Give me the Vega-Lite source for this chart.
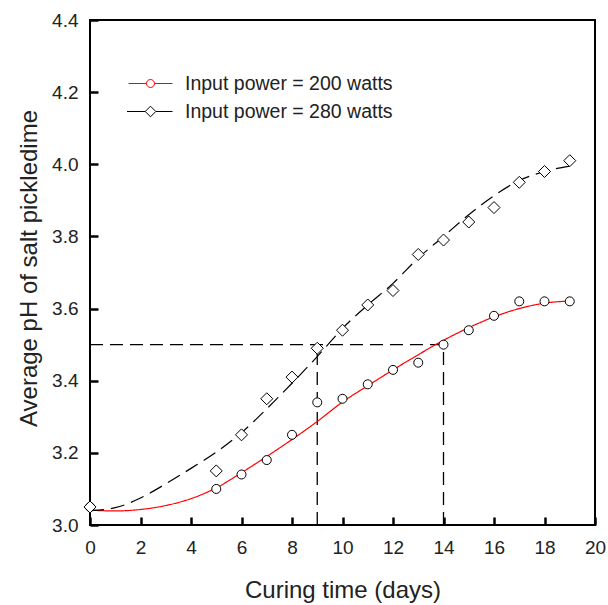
{
  "$schema": "https://vega.github.io/schema/vega-lite/v6.json",
  "width": 505,
  "height": 505,
  "autosize": {"type": "none"},
  "padding": {"left": 90, "top": 20, "right": 13, "bottom": 80},
  "background": "white",
  "config": {
    "font": "Liberation Sans",
    "view": {"stroke": "black", "strokeWidth": 2},
    "axis": {
      "domain": false,
      "grid": false,
      "ticks": true,
      "zindex": 1,
      "offset": -8,
      "tickColor": "#000000",
      "tickOpacity": 1,
      "tickWidth": 2.5,
      "tickSize": 8,
      "labelFontSize": 19,
      "labelColor": "#222222",
      "labelFlush": false,
      "titleFontSize": 24,
      "titleFontWeight": "normal",
      "titleColor": "#222222"
    }
  },
  "datasets": {
    "obs": [
      {"day": 0, "ph": 3.05, "series": "Input power = 200 watts"},
      {"day": 5, "ph": 3.10, "series": "Input power = 200 watts"},
      {"day": 6, "ph": 3.14, "series": "Input power = 200 watts"},
      {"day": 7, "ph": 3.18, "series": "Input power = 200 watts"},
      {"day": 8, "ph": 3.25, "series": "Input power = 200 watts"},
      {"day": 9, "ph": 3.34, "series": "Input power = 200 watts"},
      {"day": 10, "ph": 3.35, "series": "Input power = 200 watts"},
      {"day": 11, "ph": 3.39, "series": "Input power = 200 watts"},
      {"day": 12, "ph": 3.43, "series": "Input power = 200 watts"},
      {"day": 13, "ph": 3.45, "series": "Input power = 200 watts"},
      {"day": 14, "ph": 3.50, "series": "Input power = 200 watts"},
      {"day": 15, "ph": 3.54, "series": "Input power = 200 watts"},
      {"day": 16, "ph": 3.58, "series": "Input power = 200 watts"},
      {"day": 17, "ph": 3.62, "series": "Input power = 200 watts"},
      {"day": 18, "ph": 3.62, "series": "Input power = 200 watts"},
      {"day": 19, "ph": 3.62, "series": "Input power = 200 watts"},
      {"day": 0, "ph": 3.05, "series": "Input power = 280 watts"},
      {"day": 5, "ph": 3.15, "series": "Input power = 280 watts"},
      {"day": 6, "ph": 3.25, "series": "Input power = 280 watts"},
      {"day": 7, "ph": 3.35, "series": "Input power = 280 watts"},
      {"day": 8, "ph": 3.41, "series": "Input power = 280 watts"},
      {"day": 9, "ph": 3.49, "series": "Input power = 280 watts"},
      {"day": 10, "ph": 3.54, "series": "Input power = 280 watts"},
      {"day": 11, "ph": 3.61, "series": "Input power = 280 watts"},
      {"day": 12, "ph": 3.65, "series": "Input power = 280 watts"},
      {"day": 13, "ph": 3.75, "series": "Input power = 280 watts"},
      {"day": 14, "ph": 3.79, "series": "Input power = 280 watts"},
      {"day": 15, "ph": 3.84, "series": "Input power = 280 watts"},
      {"day": 16, "ph": 3.88, "series": "Input power = 280 watts"},
      {"day": 17, "ph": 3.95, "series": "Input power = 280 watts"},
      {"day": 18, "ph": 3.98, "series": "Input power = 280 watts"},
      {"day": 19, "ph": 4.01, "series": "Input power = 280 watts"}
    ],
    "fit": [
      {"day": 0, "ph": 3.041, "series": "Input power = 200 watts"},
      {"day": 1, "ph": 3.039, "series": "Input power = 200 watts"},
      {"day": 2, "ph": 3.043, "series": "Input power = 200 watts"},
      {"day": 3, "ph": 3.054, "series": "Input power = 200 watts"},
      {"day": 4, "ph": 3.073, "series": "Input power = 200 watts"},
      {"day": 5, "ph": 3.103, "series": "Input power = 200 watts"},
      {"day": 6, "ph": 3.145, "series": "Input power = 200 watts"},
      {"day": 7, "ph": 3.19, "series": "Input power = 200 watts"},
      {"day": 8, "ph": 3.237, "series": "Input power = 200 watts"},
      {"day": 9, "ph": 3.287, "series": "Input power = 200 watts"},
      {"day": 10, "ph": 3.341, "series": "Input power = 200 watts"},
      {"day": 11, "ph": 3.386, "series": "Input power = 200 watts"},
      {"day": 12, "ph": 3.43, "series": "Input power = 200 watts"},
      {"day": 13, "ph": 3.472, "series": "Input power = 200 watts"},
      {"day": 14, "ph": 3.512, "series": "Input power = 200 watts"},
      {"day": 15, "ph": 3.547, "series": "Input power = 200 watts"},
      {"day": 16, "ph": 3.577, "series": "Input power = 200 watts"},
      {"day": 17, "ph": 3.6, "series": "Input power = 200 watts"},
      {"day": 18, "ph": 3.615, "series": "Input power = 200 watts"},
      {"day": 19, "ph": 3.621, "series": "Input power = 200 watts"},
      {"day": 0, "ph": 3.04, "series": "Input power = 280 watts"},
      {"day": 1, "ph": 3.048, "series": "Input power = 280 watts"},
      {"day": 2, "ph": 3.075, "series": "Input power = 280 watts"},
      {"day": 3, "ph": 3.114, "series": "Input power = 280 watts"},
      {"day": 4, "ph": 3.157, "series": "Input power = 280 watts"},
      {"day": 5, "ph": 3.202, "series": "Input power = 280 watts"},
      {"day": 6, "ph": 3.256, "series": "Input power = 280 watts"},
      {"day": 7, "ph": 3.322, "series": "Input power = 280 watts"},
      {"day": 8, "ph": 3.393, "series": "Input power = 280 watts"},
      {"day": 9, "ph": 3.467, "series": "Input power = 280 watts"},
      {"day": 10, "ph": 3.545, "series": "Input power = 280 watts"},
      {"day": 11, "ph": 3.61, "series": "Input power = 280 watts"},
      {"day": 12, "ph": 3.67, "series": "Input power = 280 watts"},
      {"day": 13, "ph": 3.74, "series": "Input power = 280 watts"},
      {"day": 14, "ph": 3.8, "series": "Input power = 280 watts"},
      {"day": 15, "ph": 3.86, "series": "Input power = 280 watts"},
      {"day": 16, "ph": 3.913, "series": "Input power = 280 watts"},
      {"day": 17, "ph": 3.955, "series": "Input power = 280 watts"},
      {"day": 18, "ph": 3.98, "series": "Input power = 280 watts"},
      {"day": 19, "ph": 3.995, "series": "Input power = 280 watts"}
    ],
    "ref": [
      {"day": 0, "ph": 3.5, "day2": 14, "ph2": 3.5},
      {"day": 9, "ph": 3.0, "day2": 9, "ph2": 3.5},
      {"day": 14, "ph": 3.0, "day2": 14, "ph2": 3.5}
    ]
  },
  "encoding": {
    "x": {
      "field": "day",
      "type": "quantitative",
      "scale": {"domain": [0, 20], "nice": false, "zero": false},
      "axis": {
        "title": "Curing time (days)",
        "values": [0, 2, 4, 6, 8, 10, 12, 14, 16, 18, 20],
        "format": "d",
        "ticks": true,
        "labelPadding": 13,
        "titleBaseline": "alphabetic",
        "titleY": 80
      }
    },
    "y": {
      "field": "ph",
      "type": "quantitative",
      "scale": {"domain": [3.0, 4.4], "nice": false, "zero": false},
      "axis": {
        "title": "Average pH of salt pickledime",
        "values": [3.0, 3.2, 3.4, 3.6, 3.8, 4.0, 4.2, 4.4],
        "format": ".1f",
        "ticks": true,
        "labelPadding": 12,
        "titleBaseline": "alphabetic",
        "titleX": -62,
        "titleY": 248
      }
    }
  },
  "layer": [
    {
      "data": {"name": "ref"},
      "mark": {"type": "rule", "color": "black", "strokeWidth": 1.3, "strokeDash": [13, 7]},
      "encoding": {
        "x2": {"field": "day2"},
        "y2": {"field": "ph2"}
      }
    },
    {
      "data": {"name": "fit"},
      "mark": {"type": "line", "strokeWidth": 1.2, "interpolate": "monotone"},
      "encoding": {
        "color": {
          "field": "series",
          "type": "nominal",
          "scale": {"domain": ["Input power = 200 watts", "Input power = 280 watts"], "range": ["#ff0000", "#000000"]},
          "legend": null
        },
        "strokeDash": {
          "field": "series",
          "type": "nominal",
          "scale": {"domain": ["Input power = 200 watts", "Input power = 280 watts"], "range": [[1, 0], [14, 7]]},
          "legend": null
        }
      }
    },
    {
      "data": {"name": "obs"},
      "mark": {"type": "point", "fill": "white", "stroke": "black", "strokeWidth": 1, "opacity": 1},
      "encoding": {
        "shape": {
          "field": "series",
          "type": "nominal",
          "scale": {"domain": ["Input power = 200 watts", "Input power = 280 watts"], "range": ["circle", "diamond"]},
          "legend": null
        },
        "size": {
          "field": "series",
          "type": "nominal",
          "scale": {"domain": ["Input power = 200 watts", "Input power = 280 watts"], "range": [81, 144]},
          "legend": null
        }
      }
    },
    {
      "data": {"name": "obs"},
      "mark": {"type": "point", "fill": "white", "strokeWidth": 1, "opacity": 0, "size": 400},
      "encoding": {
        "shape": {
          "field": "series",
          "type": "nominal",
          "scale": {
            "domain": ["Input power = 200 watts", "Input power = 280 watts"],
            "range": [
              "M-2.2,0H-0.4M0.4,0H2.2M-0.4,0A0.4,0.4,0,1,1,0.4,0A0.4,0.4,0,1,1,-0.4,0Z",
              "M-2.35,0H-0.53M0.53,0H2.2M-0.53,0L0,-0.53L0.53,0L0,0.53Z"
            ]
          },
          "legend": {
            "orient": "none",
            "legendX": 50,
            "legendY": 53,
            "title": null,
            "padding": 0,
            "symbolSize": 400,
            "symbolOpacity": 1,
            "symbolFillColor": "white",
            "symbolStrokeWidth": 1,
            "labelFontSize": 19.5,
            "labelColor": "#222222",
            "labelOffset": 24,
            "labelLimit": 400,
            "rowPadding": 8
          }
        },
        "stroke": {
          "field": "series",
          "type": "nominal",
          "scale": {"domain": ["Input power = 200 watts", "Input power = 280 watts"], "range": ["#ff0000", "#000000"]},
          "legend": {
            "orient": "none",
            "legendX": 50,
            "legendY": 53,
            "title": null,
            "padding": 0,
            "symbolSize": 400,
            "symbolOpacity": 1,
            "symbolFillColor": "white",
            "symbolStrokeWidth": 1,
            "labelFontSize": 19.5,
            "labelColor": "#222222",
            "labelOffset": 24,
            "labelLimit": 400,
            "rowPadding": 8
          }
        }
      }
    }
  ],
  "resolve": {"scale": {"shape": "independent", "stroke": "independent"}}
}
